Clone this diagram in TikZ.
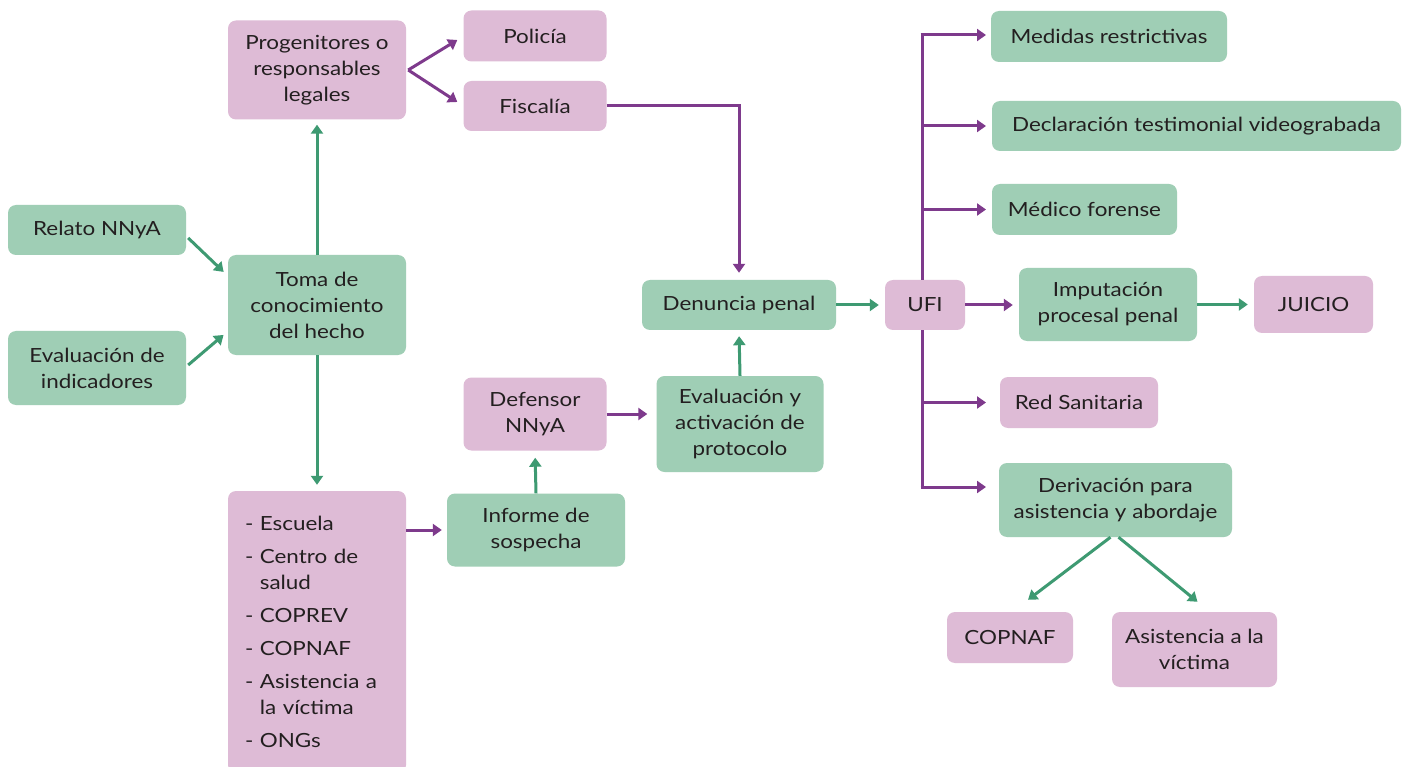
\documentclass[tikz,border=0pt]{standalone}
\usepackage{fontspec}
\setmainfont{Lato}[FakeStretch=1.15]
\usetikzlibrary{arrows.meta}
\definecolor{gfill}{RGB}{159,206,181}
\definecolor{pfill}{RGB}{222,187,214}
\definecolor{gline}{RGB}{62,154,114}
\definecolor{pline}{RGB}{126,58,140}
\definecolor{txt}{RGB}{35,31,32}
\tikzset{
  box/.style={rounded corners=8pt, inner sep=0pt, align=center, text=txt,
    font=\fontsize{19.5}{26}\selectfont},
  gbox/.style={box, fill=gfill},
  pbox/.style={box, fill=pfill},
  arr/.style={line width=3pt, -{Triangle[length=9pt,width=12pt]}, shorten >=5pt},
  garr/.style={arr, draw=gline},
  parr/.style={arr, draw=pline},
}
\begin{document}
\begin{tikzpicture}[x=1pt,y=-1pt]
\fill[white] (0,0) rectangle (1411,767);
\useasboundingbox (0,0) rectangle (1411,767);
\begin{scope}
\clip (0,0) rectangle (1411,767);
% left column
\node[gbox, minimum width=178pt, minimum height=50pt] (relato) at (97,230) {Relato NNyA};
\node[gbox, minimum width=178pt, minimum height=74pt] (indic) at (97,368) {Evaluación de\\indicadores};
\node[gbox, minimum width=178pt, minimum height=100pt] (toma) at (317,305) {Toma de\\conocimiento\\del hecho};
\node[pbox, minimum width=178pt, minimum height=99pt] (prog) at (317,70) {Progenitores o\\responsables\\legales};
\node[pbox, minimum width=143pt, minimum height=51pt] (policia) at (535,36) {Policía};
\node[pbox, minimum width=143pt, minimum height=50pt] (fisc) at (535,106) {Fiscalía};
\node[pbox, minimum width=178pt, minimum height=282pt, text width=144pt, align=left] (lista) at (317,632)
  {- Escuela\\[7pt]
   - Centro de\\\hphantom{- }salud\\[7pt]
   - COPREV\\[7pt]
   - COPNAF\\[7pt]
   - Asistencia a\\\hphantom{- }la víctima\\[7pt]
   - ONGs};
\node[gbox, minimum width=178pt, minimum height=73pt] (inf) at (536,530) {Informe de\\sospecha};
\node[pbox, minimum width=143pt, minimum height=73pt] (def) at (535,414) {Defensor\\NNyA};
\node[gbox, minimum width=167pt, minimum height=96pt] (evact) at (740,424) {Evaluación y\\activación de\\protocolo};
\node[gbox, minimum width=194pt, minimum height=50pt] (den) at (739,305) {Denuncia penal};
\node[pbox, minimum width=80pt, minimum height=50pt] (ufi) at (925,305) {UFI};
\node[gbox, minimum width=178pt, minimum height=73pt] (imp) at (1108,304.5) {Imputación\\procesal penal};
\node[pbox, minimum width=119pt, minimum height=57pt] (juicio) at (1313.5,304.5) {JUICIO};
% right column
\node[gbox, minimum width=236pt, minimum height=51pt] (medidas) at (1109,36.5) {Medidas restrictivas};
\node[gbox, minimum width=409pt, minimum height=50pt] (decl) at (1196.5,126) {Declaración testimonial videograbada};
\node[gbox, minimum width=185pt, minimum height=51pt] (medico) at (1084.5,209.5) {Médico forense};
\node[pbox, minimum width=158pt, minimum height=51pt] (red) at (1079,402.5) {Red Sanitaria};
\node[gbox, minimum width=233pt, minimum height=74pt] (deriv) at (1115.5,500) {Derivación para\\asistencia y abordaje};
\node[pbox, minimum width=126pt, minimum height=51pt] (copnaf) at (1010,637.5) {COPNAF};
\node[pbox, minimum width=165pt, minimum height=75pt] (asist) at (1194.5,649.5) {Asistencia a la\\víctima};
\end{scope}
% trunk coordinates
\coordinate (ttop) at (922,35);
\coordinate (tbot) at (922,487);
\coordinate (tipx) at (986,0);
% connectors
\draw[garr, shorten >=3pt] ([shift={(2,8)}]relato.east) -- ([shift={(-2,-31)}]toma.west);
\draw[garr, shorten >=3pt] ([shift={(2,-3)}]indic.east) -- ([shift={(-2,28)}]toma.west);
\draw[garr] (toma.north) -- (prog.south);
\draw[garr, shorten >=6pt] (toma.south) -- (lista.north);
\draw[parr, shorten >=0pt] ([xshift=2pt]prog.east) -- ([shift={(-6,4)}]policia.west);
\draw[parr, shorten >=0pt] ([xshift=2pt]prog.east) -- ([shift={(-6,-4)}]fisc.west);
\draw[parr, shorten >=7pt] (fisc.east) -| (den.north);
\draw[parr] (lista.east |- inf.west) -- (inf.west);
\draw[garr, shorten >=7pt] (inf.north) -- (def.south);
\draw[parr, shorten >=9pt] (def.east) -- (def.east -| evact.west);
\draw[garr, shorten >=6pt] (evact.north) -- (den.south);
\draw[garr, shorten >=6pt] (den.east) -- (ufi.west);
\draw[parr, shorten >=6pt] (ufi.east) -- (ufi.east -| imp.west);
\draw[garr, shorten >=6pt] (imp.east) -- (imp.east -| juicio.west);
% UFI trunk
\draw[pline, line width=3pt] (ufi.north -| ttop) -- (ttop);
\draw[pline, line width=3pt] (ufi.south -| tbot) -- (tbot);
\draw[parr, shorten >=0pt] ([xshift=-1.5pt]ttop) -- (tipx |- ttop);
\draw[parr, shorten >=0pt] (ttop |- decl.west) -- (tipx |- decl.west);
\draw[parr, shorten >=0pt] (ttop |- medico.west) -- (tipx |- medico.west);
\draw[parr, shorten >=0pt] (ttop |- red.west) -- (tipx |- red.west);
\draw[parr, shorten >=0pt] ([xshift=-1.5pt]tbot) -- (tipx |- tbot);
% derivación
\draw[garr, shorten >=0pt] ([xshift=-5pt]deriv.south) -- ([shift={(18,-12)}]copnaf.north);
\draw[garr, shorten >=0pt] ([xshift=3pt]deriv.south) -- ([shift={(3,-10)}]asist.north);
\end{tikzpicture}
\end{document}
